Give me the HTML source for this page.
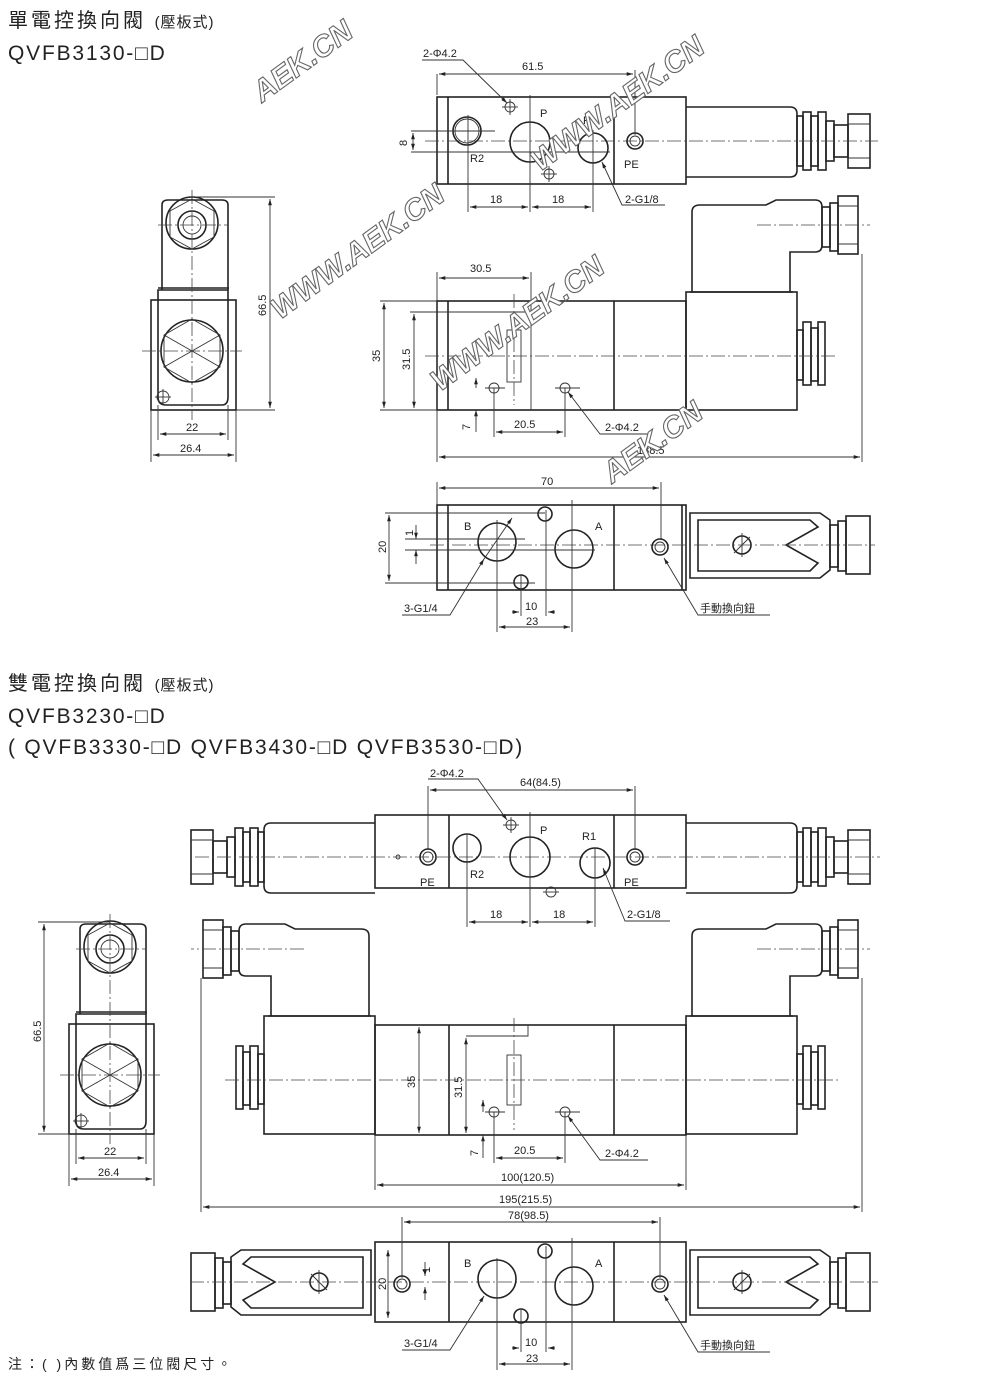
<!DOCTYPE html>
<html><head><meta charset="utf-8"><style>
html,body{margin:0;padding:0;background:#fff;}
svg{display:block}
.o{fill:none;stroke:#222;stroke-width:1.6}
.t{fill:none;stroke:#333;stroke-width:0.9}
.c{fill:none;stroke:#444;stroke-width:0.8;stroke-dasharray:14 3 2 3}
.d{fill:none;stroke:#333;stroke-width:0.9}
text{font-family:"Liberation Sans","Noto Sans CJK TC",sans-serif;fill:#222}
.l{font-size:11px}
.wm{font-family:"Liberation Sans",sans-serif;font-size:30px;font-weight:bold;font-style:italic;fill:#fff;stroke:#666;stroke-width:1.1}
.h1{font-size:20px;letter-spacing:3px}
.h2{font-size:21px;letter-spacing:1.8px}
</style></head><body>
<svg width="1000" height="1382" viewBox="0 0 1000 1382" xmlns="http://www.w3.org/2000/svg">
<defs>
<marker id="a" viewBox="0 0 10 10" refX="10" refY="5" markerWidth="7" markerHeight="7" orient="auto-start-reverse"><path d="M0,2 L10,5 L0,8z" fill="#222"/></marker>
<g id="solTop">
<path class="o" d="M686,107 H790 Q797,107 797,114 V170 Q797,177 790,177 H686"/>
<rect class="o" x="797" y="116" width="6" height="50"/>
<rect class="o" x="803" y="112" width="8" height="58"/>
<rect class="o" x="811" y="116" width="7" height="50"/>
<rect class="o" x="818" y="112" width="8" height="58"/>
<rect class="o" x="826" y="121" width="8" height="40"/>
<rect class="o" x="834" y="125" width="14" height="32"/>
<rect class="o" x="848" y="114" width="22" height="54"/>
<line class="t" x1="848" y1="124" x2="870" y2="124"/><line class="t" x1="848" y1="158" x2="870" y2="158"/>
</g>
<g id="solFront">
<rect class="o" x="686" y="292" width="111" height="118"/>
<line class="o" x1="690" y1="292" x2="793" y2="292"/>
<path class="o" d="M692,292 V212 Q692,205 700,205 H766 L776,200 H815 Q822,200 822,207 V245 Q822,252 815,252 H790 V292"/>
<rect class="o" x="822" y="207" width="8" height="40"/>
<rect class="o" x="830" y="203" width="8" height="48"/>
<rect class="o" x="838" y="196" width="20" height="58"/>
<line class="t" x1="838" y1="206" x2="858" y2="206"/><line class="t" x1="838" y1="244" x2="858" y2="244"/>
<rect class="o" x="797" y="330" width="6" height="50"/>
<rect class="o" x="803" y="322" width="8" height="63"/>
<rect class="o" x="811" y="328" width="7" height="53"/>
<rect class="o" x="818" y="322" width="7" height="63"/>
<line class="c" x1="757" y1="225" x2="870" y2="225"/>
</g>
<g id="solBot">
<path class="o" d="M690,513 H820 L830,520 V570 L820,578 H690 Z"/>
<path class="o" d="M698,520 H810 L818,527 L786,545 L818,563 L810,571 H698 Z"/>
<circle class="o" cx="742" cy="545" r="9"/>
<line class="t" x1="734" y1="553" x2="750" y2="537"/><line class="t" x1="742" y1="533" x2="742" y2="557"/>
<rect class="o" x="830" y="525" width="8" height="42"/>
<rect class="o" x="838" y="521" width="8" height="50"/>
<rect class="o" x="846" y="516" width="24" height="58"/>
</g>
</defs>

<text x="8" y="27" class="h1">單電控換向閥 <tspan style="font-size:15px;letter-spacing:1px">(壓板式)</tspan></text>
<text x="8" y="60" class="h2">QVFB3130-□D</text>

<rect class="o" x="437" y="97" width="249" height="87"/>
<line class="o" x1="448" y1="97" x2="448" y2="184"/><line class="o" x1="614" y1="97" x2="614" y2="184"/>
<use href="#solTop"/>
<line class="c" x1="425" y1="141" x2="878" y2="141"/>
<circle class="o" cx="467" cy="131" r="14"/><circle class="t" cx="467" cy="131" r="12"/>
<circle class="o" cx="530" cy="142" r="20"/>
<circle class="o" cx="593" cy="148" r="15"/>
<circle class="o" cx="635" cy="141" r="8"/><circle class="t" cx="635" cy="141" r="5"/>
<circle class="t" cx="510" cy="107" r="5"/><line class="t" x1="502" y1="107" x2="518" y2="107"/><line class="t" x1="510" y1="99" x2="510" y2="115"/>
<circle class="t" cx="549" cy="174" r="5"/><line class="t" x1="541" y1="174" x2="557" y2="174"/><line class="t" x1="549" y1="166" x2="549" y2="182"/>
<text class="l" x="540" y="117">P</text><text class="l" x="583" y="124">R</text>
<text class="l" x="470" y="162">R2</text><text class="l" x="624" y="168">PE</text>
<line class="d" x1="437" y1="74" x2="437" y2="95"/><line class="d" x1="635" y1="70" x2="635" y2="135"/>
<line class="d" x1="439" y1="74" x2="633" y2="74" marker-start="url(#a)" marker-end="url(#a)"/>
<text class="l" x="522" y="70">61.5</text>
<path class="d" d="M422,60 H463 L507,103" marker-end="url(#a)"/><text class="l" x="423" y="57">2-Φ4.2</text>
<line class="d" x1="411" y1="131" x2="495" y2="131"/><line class="d" x1="411" y1="152" x2="610" y2="152"/>
<line class="d" x1="413" y1="133" x2="413" y2="150" marker-start="url(#a)" marker-end="url(#a)"/>
<text class="l" x="0" y="0" transform="translate(407,146) rotate(-90)">8</text>
<line class="d" x1="468" y1="115" x2="468" y2="212"/><line class="d" x1="530" y1="95" x2="530" y2="212"/><line class="d" x1="593" y1="130" x2="593" y2="212"/>
<line class="d" x1="470" y1="207" x2="528" y2="207" marker-start="url(#a)" marker-end="url(#a)"/>
<line class="d" x1="532" y1="207" x2="591" y2="207" marker-start="url(#a)" marker-end="url(#a)"/>
<text class="l" x="490" y="203">18</text><text class="l" x="552" y="203">18</text>
<path class="d" d="M665,205 H622 L602,162" marker-end="url(#a)"/><text class="l" x="625" y="203">2-G1/8</text>

<rect class="o" x="437" y="301" width="249" height="109"/>
<line class="o" x1="448" y1="301" x2="448" y2="410"/><line class="o" x1="614" y1="301" x2="614" y2="410"/>
<path class="t" d="M448,312 H528 V301"/><rect class="t" x="507" y="330" width="14" height="52"/>
<line class="c" x1="514" y1="294" x2="514" y2="405"/>
<use href="#solFront"/>
<line class="c" x1="425" y1="356" x2="835" y2="356"/>
<circle class="t" cx="494" cy="388" r="5"/><line class="t" x1="485" y1="388" x2="505" y2="388"/>
<circle class="t" cx="565" cy="388" r="5"/><line class="t" x1="555" y1="388" x2="580" y2="388"/>
<line class="d" x1="380" y1="301" x2="437" y2="301"/><line class="d" x1="380" y1="410" x2="437" y2="410"/>
<line class="d" x1="384" y1="303" x2="384" y2="408" marker-start="url(#a)" marker-end="url(#a)"/>
<text class="l" transform="translate(380,362) rotate(-90)">35</text>
<line class="d" x1="410" y1="312" x2="448" y2="312"/>
<line class="d" x1="414" y1="314" x2="414" y2="408" marker-start="url(#a)" marker-end="url(#a)"/>
<text class="l" transform="translate(410,370) rotate(-90)">31.5</text>
<line class="d" x1="437" y1="272" x2="437" y2="462"/><line class="d" x1="531" y1="272" x2="531" y2="410"/>
<line class="d" x1="439" y1="278" x2="529" y2="278" marker-start="url(#a)" marker-end="url(#a)"/><text class="l" x="470" y="272">30.5</text>
<line class="d" x1="494" y1="388" x2="494" y2="437"/><line class="d" x1="565" y1="388" x2="565" y2="437"/>
<line class="d" x1="496" y1="432" x2="563" y2="432" marker-start="url(#a)" marker-end="url(#a)"/><text class="l" x="514" y="428">20.5</text>
<line class="d" x1="476" y1="378" x2="476" y2="388" marker-start="url(#a)"/><line class="d" x1="476" y1="420" x2="476" y2="410" marker-end="url(#a)"/><line class="d" x1="476" y1="410" x2="476" y2="432"/>
<text class="l" transform="translate(470,430) rotate(-90)">7</text>
<path class="d" d="M648,434 H600 L568,392" marker-end="url(#a)"/><text class="l" x="605" y="431">2-Φ4.2</text>
<line class="d" x1="862" y1="254" x2="862" y2="462"/>
<line class="d" x1="439" y1="457" x2="860" y2="457" marker-start="url(#a)" marker-end="url(#a)"/><text class="l" x="637" y="454">138.5</text>

<rect class="o" x="437" y="505" width="249" height="85"/>
<line class="o" x1="448" y1="505" x2="448" y2="590"/><line class="o" x1="614" y1="505" x2="614" y2="590"/><line class="o" x1="682" y1="505" x2="682" y2="590"/>
<use href="#solBot"/>
<line class="c" x1="430" y1="545" x2="875" y2="545"/>
<circle class="o" cx="497" cy="542" r="19"/><circle class="o" cx="574" cy="549" r="19"/>
<circle class="o" cx="545" cy="514" r="7"/><circle class="o" cx="521" cy="582" r="7"/>
<circle class="o" cx="660" cy="547" r="8"/><circle class="t" cx="660" cy="547" r="5"/>
<text class="l" x="464" y="530">B</text><text class="l" x="595" y="530">A</text>
<line class="d" x1="385" y1="513" x2="545" y2="513"/><line class="d" x1="385" y1="583" x2="535" y2="583"/>
<line class="d" x1="389" y1="515" x2="389" y2="581" marker-start="url(#a)" marker-end="url(#a)"/>
<text class="l" transform="translate(386,553) rotate(-90)">20</text>
<line class="d" x1="405" y1="539" x2="525" y2="539"/><line class="d" x1="405" y1="550" x2="595" y2="550"/>
<line class="d" x1="416" y1="525" x2="416" y2="539" marker-end="url(#a)"/><line class="d" x1="416" y1="564" x2="416" y2="550" marker-end="url(#a)"/>
<text class="l" transform="translate(413,536) rotate(-90)">1</text>
<line class="d" x1="437" y1="482" x2="437" y2="505"/><line class="d" x1="661" y1="482" x2="661" y2="540"/>
<line class="d" x1="439" y1="488" x2="659" y2="488" marker-start="url(#a)" marker-end="url(#a)"/><text class="l" x="541" y="485">70</text>
<line class="d" x1="497" y1="520" x2="497" y2="632"/><line class="d" x1="572" y1="500" x2="572" y2="632"/>
<line class="d" x1="521" y1="575" x2="521" y2="616"/><line class="d" x1="546" y1="510" x2="546" y2="616"/>
<line class="d" x1="512" y1="612" x2="519" y2="612" marker-end="url(#a)"/><line class="d" x1="555" y1="612" x2="548" y2="612" marker-end="url(#a)"/>
<text class="l" x="525" y="610">10</text>
<line class="d" x1="499" y1="627" x2="570" y2="627" marker-start="url(#a)" marker-end="url(#a)"/><text class="l" x="526" y="625">23</text>
<path class="d" d="M402,615 H450 L484,559" marker-end="url(#a)"/><line class="d" x1="484" y1="559" x2="512" y2="518" marker-end="url(#a)"/>
<text class="l" x="404" y="612">3-G1/4</text>
<path class="d" d="M770,615 H698 L664,558" marker-end="url(#a)"/><text class="l" x="700" y="612">手動換向鈕</text>

<g id="side">
<rect class="o" x="151" y="300" width="85" height="110"/>
<path class="o" d="M158,290 V397 Q158,405 166,405 H222 Q228,405 228,397 V290 Z"/>
<path class="o" d="M162,290 V205 Q162,200 168,200 H222 Q228,200 228,205 V290"/>
<line class="o" x1="158" y1="288" x2="229" y2="288"/>
<circle class="o" cx="192" cy="223" r="26"/><circle class="o" cx="192" cy="225" r="14"/><circle class="t" cx="192" cy="225" r="9"/>
<polygon class="t" points="192,199 214,211 214,237 192,249 170,237 170,211"/>
<circle class="o" cx="192" cy="351" r="31"/>
<polygon class="t" points="192,319 220,335 220,367 192,383 164,367 164,335"/>
<line class="t" x1="164" y1="335" x2="220" y2="367"/><line class="t" x1="220" y1="335" x2="164" y2="367"/>
<line class="c" x1="192" y1="190" x2="192" y2="420"/><line class="c" x1="142" y1="351" x2="242" y2="351"/><line class="c" x1="158" y1="225" x2="228" y2="225"/>
<circle class="t" cx="163" cy="397" r="6"/><line class="t" x1="155" y1="397" x2="171" y2="397"/><line class="t" x1="163" y1="389" x2="163" y2="405"/>
<line class="d" x1="158" y1="405" x2="158" y2="440"/><line class="d" x1="228" y1="405" x2="228" y2="440"/>
<line class="d" x1="151" y1="410" x2="151" y2="462"/><line class="d" x1="236" y1="410" x2="236" y2="462"/>
<line class="d" x1="160" y1="434" x2="226" y2="434" marker-start="url(#a)" marker-end="url(#a)"/><text class="l" x="186" y="431">22</text>
<line class="d" x1="153" y1="455" x2="234" y2="455" marker-start="url(#a)" marker-end="url(#a)"/><text class="l" x="180" y="452">26.4</text>
</g>
<line class="d" x1="196" y1="197" x2="275" y2="197"/><line class="d" x1="236" y1="410" x2="275" y2="410"/>
<line class="d" x1="270" y1="199" x2="270" y2="408" marker-start="url(#a)" marker-end="url(#a)"/>
<text class="l" transform="translate(266,316) rotate(-90)">66.5</text>

<text x="8" y="690" class="h1">雙電控換向閥 <tspan style="font-size:15px;letter-spacing:1px">(壓板式)</tspan></text>
<text x="8" y="723" class="h2">QVFB3230-□D</text>
<text x="8" y="754" class="h2">( QVFB3330-□D  QVFB3430-□D  QVFB3530-□D)</text>

<rect class="o" x="375" y="815" width="311" height="73"/>
<line class="o" x1="449" y1="815" x2="449" y2="888"/><line class="o" x1="614" y1="815" x2="614" y2="888"/>
<g transform="translate(0,716)"><use href="#solTop"/></g>
<g transform="translate(1061,716) scale(-1,1)"><use href="#solTop"/></g>
<line class="c" x1="195" y1="857" x2="880" y2="857"/>
<circle class="o" cx="428" cy="857" r="8"/><circle class="t" cx="428" cy="857" r="5"/>
<circle class="o" cx="635" cy="857" r="8"/><circle class="t" cx="635" cy="857" r="5"/>
<circle class="o" cx="467" cy="848" r="14"/><circle class="o" cx="530" cy="857" r="20"/><circle class="o" cx="595" cy="863" r="15"/>
<circle class="t" cx="511" cy="825" r="5"/><line class="t" x1="503" y1="825" x2="519" y2="825"/><line class="t" x1="511" y1="817" x2="511" y2="833"/>
<circle class="t" cx="551" cy="892" r="5"/><line class="t" x1="543" y1="892" x2="559" y2="892"/>
<circle class="t" cx="398" cy="857" r="2"/>
<text class="l" x="540" y="834">P</text><text class="l" x="582" y="840">R1</text>
<text class="l" x="420" y="886">PE</text><text class="l" x="470" y="878">R2</text><text class="l" x="624" y="886">PE</text>
<line class="d" x1="428" y1="786" x2="428" y2="850"/><line class="d" x1="635" y1="786" x2="635" y2="850"/>
<line class="d" x1="430" y1="790" x2="633" y2="790" marker-start="url(#a)" marker-end="url(#a)"/><text class="l" x="520" y="786">64(84.5)</text>
<path class="d" d="M428,779 H478 L507,820" marker-end="url(#a)"/><text class="l" x="430" y="777">2-Φ4.2</text>
<line class="d" x1="467" y1="835" x2="467" y2="927"/><line class="d" x1="530" y1="812" x2="530" y2="927"/><line class="d" x1="595" y1="848" x2="595" y2="927"/>
<line class="d" x1="469" y1="922" x2="528" y2="922" marker-start="url(#a)" marker-end="url(#a)"/>
<line class="d" x1="532" y1="922" x2="593" y2="922" marker-start="url(#a)" marker-end="url(#a)"/>
<text class="l" x="490" y="918">18</text><text class="l" x="553" y="918">18</text>
<path class="d" d="M670,921 H625 L603,868" marker-end="url(#a)"/><text class="l" x="627" y="918">2-G1/8</text>

<rect class="o" x="375" y="1025" width="311" height="110"/>
<line class="o" x1="449" y1="1025" x2="449" y2="1135"/><line class="o" x1="614" y1="1025" x2="614" y2="1135"/>
<path class="t" d="M466,1036 H528 V1025"/><rect class="t" x="507" y="1055" width="14" height="50"/>
<line class="c" x1="514" y1="1018" x2="514" y2="1130"/>
<g transform="translate(0,724)"><use href="#solFront"/></g>
<g transform="translate(1061,724) scale(-1,1)"><use href="#solFront"/></g>
<line class="c" x1="225" y1="1080" x2="838" y2="1080"/>
<circle class="t" cx="494" cy="1112" r="5"/><line class="t" x1="485" y1="1112" x2="505" y2="1112"/>
<circle class="t" cx="565" cy="1112" r="5"/><line class="t" x1="555" y1="1112" x2="580" y2="1112"/>
<line class="d" x1="419" y1="1027" x2="419" y2="1133" marker-start="url(#a)" marker-end="url(#a)"/>
<text class="l" transform="translate(415,1088) rotate(-90)">35</text>
<line class="d" x1="466" y1="1038" x2="466" y2="1133" marker-start="url(#a)" marker-end="url(#a)"/>
<text class="l" transform="translate(462,1098) rotate(-90)">31.5</text>
<line class="d" x1="494" y1="1112" x2="494" y2="1163"/><line class="d" x1="565" y1="1112" x2="565" y2="1163"/>
<line class="d" x1="496" y1="1158" x2="563" y2="1158" marker-start="url(#a)" marker-end="url(#a)"/><text class="l" x="514" y="1154">20.5</text>
<line class="d" x1="483" y1="1100" x2="483" y2="1112" marker-start="url(#a)"/><line class="d" x1="483" y1="1146" x2="483" y2="1135" marker-end="url(#a)"/><line class="d" x1="483" y1="1135" x2="483" y2="1158"/>
<text class="l" transform="translate(478,1156) rotate(-90)">7</text>
<path class="d" d="M648,1160 H600 L568,1116" marker-end="url(#a)"/><text class="l" x="605" y="1157">2-Φ4.2</text>
<line class="d" x1="375" y1="1135" x2="375" y2="1190"/><line class="d" x1="686" y1="1135" x2="686" y2="1190"/>
<line class="d" x1="377" y1="1185" x2="684" y2="1185" marker-start="url(#a)" marker-end="url(#a)"/><text class="l" x="501" y="1181">100(120.5)</text>
<line class="d" x1="201" y1="978" x2="201" y2="1212"/><line class="d" x1="862" y1="978" x2="862" y2="1212"/>
<line class="d" x1="203" y1="1207" x2="860" y2="1207" marker-start="url(#a)" marker-end="url(#a)"/><text class="l" x="499" y="1203">195(215.5)</text>

<rect class="o" x="375" y="1242" width="311" height="80"/>
<line class="o" x1="449" y1="1242" x2="449" y2="1322"/><line class="o" x1="614" y1="1242" x2="614" y2="1322"/>
<g transform="translate(0,737)"><use href="#solBot"/></g>
<g transform="translate(1061,737) scale(-1,1)"><use href="#solBot"/></g>
<line class="c" x1="190" y1="1282" x2="878" y2="1282"/>
<circle class="o" cx="497" cy="1279" r="19"/><circle class="o" cx="574" cy="1286" r="19"/>
<circle class="o" cx="545" cy="1251" r="7"/><circle class="o" cx="521" cy="1316" r="7"/>
<circle class="o" cx="660" cy="1284" r="8"/><circle class="t" cx="660" cy="1284" r="5"/>
<circle class="o" cx="402" cy="1284" r="8"/><circle class="t" cx="402" cy="1284" r="5"/>
<text class="l" x="464" y="1267">B</text><text class="l" x="595" y="1267">A</text>
<line class="d" x1="388" y1="1250" x2="388" y2="1318" marker-start="url(#a)" marker-end="url(#a)"/>
<text class="l" transform="translate(386,1290) rotate(-90)">20</text>
<line class="d" x1="425" y1="1262" x2="425" y2="1276" marker-end="url(#a)"/><line class="d" x1="425" y1="1300" x2="425" y2="1287" marker-end="url(#a)"/>
<text class="l" transform="translate(430,1273) rotate(-90)">1</text>
<line class="d" x1="402" y1="1217" x2="402" y2="1278"/><line class="d" x1="660" y1="1217" x2="660" y2="1278"/>
<line class="d" x1="404" y1="1222" x2="658" y2="1222" marker-start="url(#a)" marker-end="url(#a)"/><text class="l" x="508" y="1219">78(98.5)</text>
<line class="d" x1="497" y1="1258" x2="497" y2="1370"/><line class="d" x1="572" y1="1238" x2="572" y2="1370"/>
<line class="d" x1="521" y1="1310" x2="521" y2="1352"/><line class="d" x1="546" y1="1246" x2="546" y2="1352"/>
<line class="d" x1="512" y1="1348" x2="519" y2="1348" marker-end="url(#a)"/><line class="d" x1="555" y1="1348" x2="548" y2="1348" marker-end="url(#a)"/>
<text class="l" x="525" y="1346">10</text>
<line class="d" x1="499" y1="1364" x2="570" y2="1364" marker-start="url(#a)" marker-end="url(#a)"/><text class="l" x="526" y="1362">23</text>
<path class="d" d="M402,1350 H450 L484,1296" marker-end="url(#a)"/><text class="l" x="404" y="1347">3-G1/4</text>
<path class="d" d="M770,1352 H698 L664,1295" marker-end="url(#a)"/><text class="l" x="700" y="1349">手動換向鈕</text>

<g transform="translate(-82,724)"><use href="#side"/></g>
<line class="d" x1="38" y1="922" x2="110" y2="922"/><line class="d" x1="38" y1="1134" x2="70" y2="1134"/>
<line class="d" x1="44" y1="924" x2="44" y2="1132" marker-start="url(#a)" marker-end="url(#a)"/>
<text class="l" transform="translate(41,1042) rotate(-90)">66.5</text>

<text x="8" y="1369" style="font-size:14px;letter-spacing:3px">注：( )內數值爲三位閥尺寸。</text>

<text class="wm" transform="translate(262,103) rotate(-36)">AEK.CN</text>
<text class="wm" transform="translate(540,172) rotate(-36)">WWW.AEK.CN</text>
<text class="wm" transform="translate(280,320) rotate(-36)">WWW.AEK.CN</text>
<text class="wm" transform="translate(440,392) rotate(-36)">WWW.AEK.CN</text>
<text class="wm" transform="translate(612,484) rotate(-36)">AEK.CN</text>
</svg>
</body></html>
